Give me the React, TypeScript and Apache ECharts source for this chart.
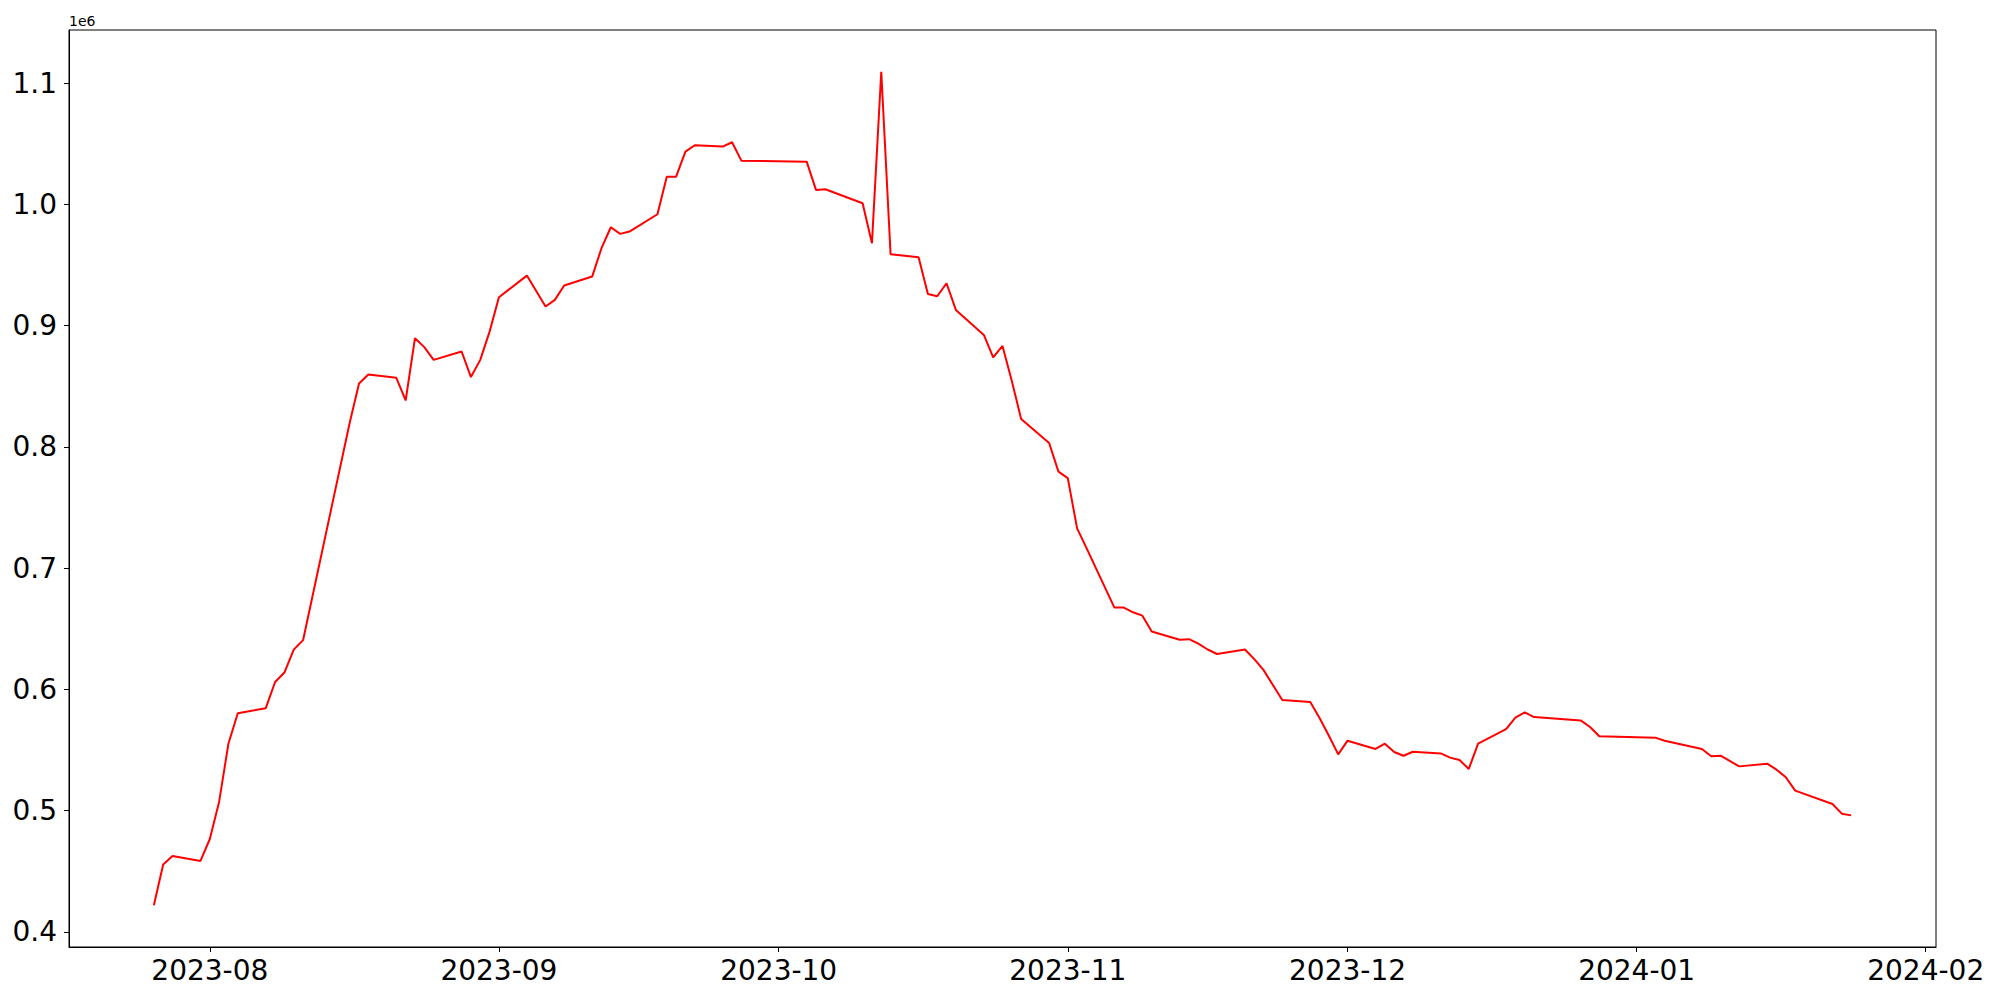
import React, { useEffect, useRef } from "react";
import * as echarts from "echarts";

const dates: string[] = [
  "2023-07-26", "2023-07-27", "2023-07-28", "2023-07-31", "2023-08-01", "2023-08-02", "2023-08-03", "2023-08-04",
  "2023-08-07", "2023-08-08", "2023-08-09", "2023-08-10", "2023-08-11", "2023-08-16",
  "2023-08-17", "2023-08-18", "2023-08-21", "2023-08-22", "2023-08-23", "2023-08-24", "2023-08-25", "2023-08-28",
  "2023-08-29", "2023-08-30", "2023-08-31", "2023-09-01", "2023-09-04", "2023-09-06", "2023-09-07", "2023-09-08",
  "2023-09-11", "2023-09-12", "2023-09-13", "2023-09-14", "2023-09-15", "2023-09-18", "2023-09-19", "2023-09-20",
  "2023-09-21", "2023-09-22", "2023-09-25", "2023-09-26", "2023-09-27", "2023-10-04", "2023-10-05", "2023-10-06",
  "2023-10-10", "2023-10-11", "2023-10-12", "2023-10-13", "2023-10-16", "2023-10-17", "2023-10-18", "2023-10-19",
  "2023-10-20", "2023-10-23", "2023-10-24", "2023-10-25", "2023-10-26", "2023-10-27", "2023-10-30", "2023-10-31",
  "2023-11-01", "2023-11-02", "2023-11-03", "2023-11-06", "2023-11-07", "2023-11-08", "2023-11-09", "2023-11-10",
  "2023-11-13", "2023-11-14", "2023-11-15", "2023-11-16", "2023-11-17", "2023-11-20", "2023-11-21", "2023-11-22",
  "2023-11-24", "2023-11-27", "2023-11-28", "2023-11-29", "2023-11-30", "2023-12-01", "2023-12-04", "2023-12-05",
  "2023-12-06", "2023-12-07", "2023-12-08", "2023-12-11", "2023-12-12", "2023-12-13", "2023-12-14", "2023-12-15",
  "2023-12-18", "2023-12-19", "2023-12-20", "2023-12-21", "2023-12-26", "2023-12-27", "2023-12-28", "2024-01-03",
  "2024-01-04", "2024-01-08", "2024-01-09", "2024-01-10", "2024-01-12", "2024-01-15", "2024-01-16", "2024-01-17",
  "2024-01-18", "2024-01-22", "2024-01-23", "2024-01-24",
];

const values: number[] = [
  421900, 455600, 462500, 458500, 476600, 507400, 555400, 580300,
  584500, 606100, 613900, 632800, 640600, 820000,
  852300, 859800, 857000, 838300, 889700, 882300, 871800, 878700,
  857600, 871800, 895100, 923500, 941300, 915800, 921300, 933100,
  940500, 963900, 981200, 975700, 977600, 991900, 1022900, 1022900,
  1043600, 1048800, 1047700, 1051300, 1036100, 1035300, 1012000, 1012500,
  1001000, 968000, 1109500, 958900, 956500, 926200, 924300, 935000,
  913000, 892400, 873800, 883300, 854300, 823100, 803200, 779600,
  774300, 732800, 716700, 667500, 667500, 663600, 660800, 647700,
  640900, 641400, 637700, 632900, 629200, 632900, 625000, 615900,
  591200, 589600, 576400, 561800, 546400, 557700, 550900, 555200,
  548400, 545300, 548600, 547200, 543700, 541800, 534400, 555200,
  567300, 576700, 581000, 577200, 574400, 569000, 561300, 560200,
  557700, 550900, 544800, 545300, 536500, 538700, 533800, 527500,
  516500, 505500, 497500, 496100,
];

const yTicks: number[] = [400000, 500000, 600000, 700000, 800000, 900000, 1000000, 1100000];
const xTickLabels: string[] = ["2023-08", "2023-09", "2023-10", "2023-11", "2023-12", "2024-01", "2024-02"];
const offsetText = "1e6";

function toTime(s: string): number {
  const p = s.split("-").map(Number);
  return Date.UTC(p[0], p[1] - 1, p[2] || 1);
}

export default function App() {
  const ref = useRef<HTMLDivElement>(null);
  useEffect(() => {
    if (!ref.current) return;
    const chart = echarts.init(ref.current, null, { renderer: "svg" });
    const times = dates.map(toTime);
    const tMin = Math.min(...times);
    const tMax = Math.max(...times);
    const tPad = (tMax - tMin) * 0.05;
    const vMin = Math.min(...values);
    const vMax = Math.max(...values);
    const vPad = (vMax - vMin) * 0.05;
    const xTicks = xTickLabels.map(toTime);
    const font = "DejaVu Sans";

    chart.setOption({
      animation: false,
      backgroundColor: "#ffffff",
      grid: {
        left: 69,
        right: 64,
        top: 30,
        bottom: 53,
        show: true,
        borderColor: "#000000",
        borderWidth: 1,
        backgroundColor: "transparent",
      },
      xAxis: {
        type: "value",
        min: tMin - tPad,
        max: tMax + tPad,
        scale: true,
        axisLine: { show: true, onZero: false, lineStyle: { color: "#000000", width: 1 } },
        axisTick: {
          show: true,
          length: 5,
          lineStyle: { color: "#000000", width: 1 },
          customValues: xTicks,
        },
        axisLabel: {
          show: true,
          customValues: xTicks,
          margin: 9,
          fontFamily: font,
          fontSize: 28,
          color: "#000000",
          formatter: (v: number) => {
            const d = new Date(v);
            const m = d.getUTCMonth() + 1;
            return d.getUTCFullYear() + "-" + (m < 10 ? "0" + m : "" + m);
          },
        },
        splitLine: { show: false },
      },
      yAxis: {
        type: "value",
        min: vMin - vPad,
        max: vMax + vPad,
        scale: true,
        name: offsetText,
        nameLocation: "end",
        nameGap: 2,
        nameTextStyle: {
          fontFamily: font,
          fontSize: 14,
          color: "#000000",
          align: "left",
          verticalAlign: "bottom",
        },
        axisLine: { show: true, onZero: false, lineStyle: { color: "#000000", width: 1 } },
        axisTick: {
          show: true,
          length: 5,
          lineStyle: { color: "#000000", width: 1 },
          customValues: yTicks,
        },
        axisLabel: {
          show: true,
          customValues: yTicks,
          margin: 12,
          fontFamily: font,
          fontSize: 28,
          color: "#000000",
          formatter: (v: number) => (v / 1e6).toFixed(1),
        },
        splitLine: { show: false },
      },
      series: [
        {
          type: "line",
          data: times.map((t, i) => [t, values[i]]),
          showSymbol: false,
          symbol: "none",
          lineStyle: { color: "#ff0000", width: 2 },
          itemStyle: { color: "#ff0000" },
        },
      ],
    });
    return () => chart.dispose();
  }, []);
  return (
    <div
      ref={ref}
      style={{ position: "absolute", left: 0, top: 0, width: 2000, height: 1000, background: "#fff" }}
    />
  );
}
